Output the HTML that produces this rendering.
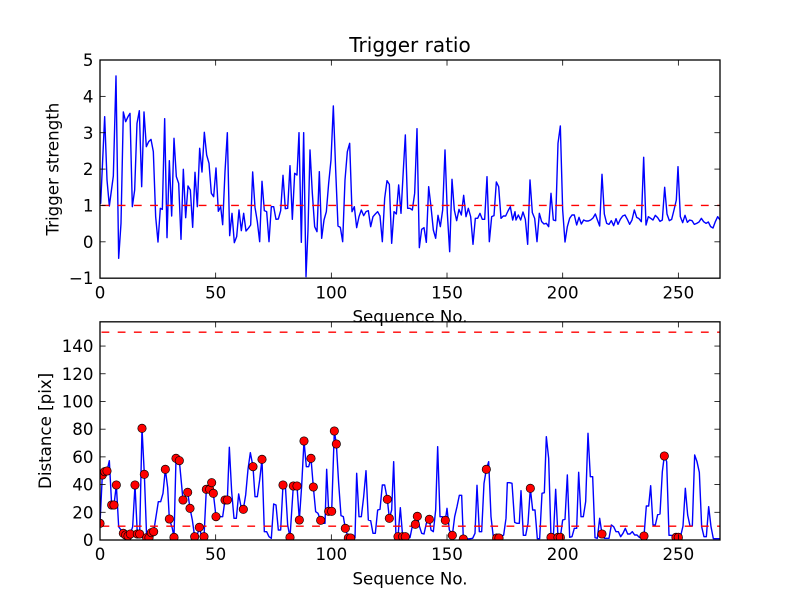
<!DOCTYPE html>
<html>
<head>
<meta charset="utf-8">
<style>
html,body{margin:0;padding:0;background:#fff;}
svg{display:block;}
text{font-family:"DejaVu Sans","Liberation Sans",sans-serif;fill:#000;}
</style>
</head>
<body>
<svg width="800" height="600" viewBox="0 0 800 600" xmlns="http://www.w3.org/2000/svg">
<defs>
<clipPath id="c1"><rect x="100" y="60" width="620" height="218.18"/></clipPath>
<clipPath id="c2"><rect x="100" y="321.82" width="620" height="218.18"/></clipPath>
</defs>
<rect x="0" y="0" width="800" height="600" fill="#fff"/>

<!-- ===== TOP AXES ===== -->
<g clip-path="url(#c1)">
<g transform="translate(98,70) scale(0.333333)">
<polyline fill="none" stroke="#0000ff" stroke-width="4.2" stroke-linejoin="round" points="
0,406 8,400 20,140 27,330 34,408 46,318 54,18 62,565 69,460 76,126 83,155 90,140 96,130 103,410 110,360 117,160 124,122 131,350 138,126 145,230 152,215 159,208 166,245 173,440 180,516 187,415 193,418 200,146 207,503 214,272 221,438 228,205 235,320 242,340 249,508 256,298 263,443 270,348 277,360 284,472 291,307 298,410 305,235 312,306 319,187 326,255 333,280 340,370 347,380 354,294 361,424 368,410 374,464 381,305 388,188 395,497 402,430 409,518 416,500 423,420 430,482 437,430 444,483 451,475 458,465 464,306 471,412 478,455 485,515 492,334 499,422 506,425 513,515 520,410 527,410 534,448 541,447 548,422 555,316 562,416 569,415 576,287 583,448 590,310 597,315 603,188 610,517 617,188 624,620
630,480 636,240 643,370 650,470 657,485 664,305 671,505 678,450 685,425 692,340 699,270 706,108 713,300 720,468 727,472 734,515 741,330 748,245 755,220 762,425 769,410 776,473 783,440 790,420 797,437 804,425 811,422 818,470 825,440 832,432 839,425 846,438 853,515 860,385 867,332 874,343 881,520 888,425 895,432 902,345 909,430 916,300 922,195 929,415 936,415 943,420 950,370 957,176 964,533 971,478 978,473 985,517 992,350 999,410 1006,480 1013,505 1020,436 1027,470 1034,420 1041,240 1048,430 1055,545 1062,328 1069,420 1076,452 1083,418 1090,435 1097,376 1104,440 1111,415 1118,440 1125,523 1132,445 1139,445 1146,430 1153,448 1160,448 1167,320 1174,515 1181,440 1188,437 1195,336 1202,350 1209,445 1216,438 1223,438 1230,423 1237,410 1244,450 1251,425
1254,450 1261,435 1268,450 1275,426 1282,448 1289,523 1296,330 1303,428 1310,445 1317,515 1324,430 1331,455 1338,462 1345,460 1352,470 1359,370 1366,450 1373,452 1380,220 1387,168 1394,420 1401,516 1408,470 1415,445 1422,435 1429,435 1436,465 1443,442 1450,462 1457,450 1464,453 1471,453 1478,450 1485,444 1492,432 1499,452 1505,468 1512,313 1519,432 1526,460 1533,463 1540,452 1547,467 1554,446 1560,463 1567,448 1574,438 1581,435 1588,448 1595,463 1602,450 1609,420 1616,442 1623,446 1630,455 1637,262 1644,465 1651,440 1658,445 1665,450 1672,436 1679,443 1686,454 1693,450 1700,352 1707,432 1714,452 1721,448 1728,420 1735,390 1740,290 1747,440 1754,458 1761,436 1768,457 1775,450 1782,452 1789,463 1796,460 1803,456 1810,445 1817,455 1824,460 1831,456 1838,470 1845,474 1852,455 1859,440 1866,450"/>
</g>
<line x1="101.5" y1="205.45" x2="720" y2="205.45" stroke="#ff0000" stroke-width="1.4" stroke-dasharray="7.8 8.4"/>
</g>
<rect x="100" y="60" width="620" height="218.18" fill="none" stroke="#000" stroke-width="1.3"/>
<!-- top ticks -->
<g stroke="#000" stroke-width="0.8">
<line x1="215.67" y1="278.18" x2="215.67" y2="272.6"/><line x1="331.34" y1="278.18" x2="331.34" y2="272.6"/><line x1="447.01" y1="278.18" x2="447.01" y2="272.6"/><line x1="562.69" y1="278.18" x2="562.69" y2="272.6"/><line x1="678.36" y1="278.18" x2="678.36" y2="272.6"/>
<line x1="215.67" y1="60" x2="215.67" y2="65.6"/><line x1="331.34" y1="60" x2="331.34" y2="65.6"/><line x1="447.01" y1="60" x2="447.01" y2="65.6"/><line x1="562.69" y1="60" x2="562.69" y2="65.6"/><line x1="678.36" y1="60" x2="678.36" y2="65.6"/>
<line x1="100" y1="241.82" x2="105.6" y2="241.82"/><line x1="100" y1="205.45" x2="105.6" y2="205.45"/><line x1="100" y1="169.09" x2="105.6" y2="169.09"/><line x1="100" y1="132.73" x2="105.6" y2="132.73"/><line x1="100" y1="96.36" x2="105.6" y2="96.36"/>
<line x1="720" y1="241.82" x2="714.4" y2="241.82"/><line x1="720" y1="205.45" x2="714.4" y2="205.45"/><line x1="720" y1="169.09" x2="714.4" y2="169.09"/><line x1="720" y1="132.73" x2="714.4" y2="132.73"/><line x1="720" y1="96.36" x2="714.4" y2="96.36"/>
</g>
<g font-size="16.67" text-anchor="middle">
<text x="100" y="298.4">0</text><text x="215.67" y="298.4">50</text><text x="331.34" y="298.4">100</text><text x="447.01" y="298.4">150</text><text x="562.69" y="298.4">200</text><text x="678.36" y="298.4">250</text>
</g>
<g font-size="16.67" text-anchor="end">
<text x="93.5" y="284.2">−1</text><text x="93.5" y="247.9">0</text><text x="93.5" y="211.5">1</text><text x="93.5" y="175.1">2</text><text x="93.5" y="138.8">3</text><text x="93.5" y="102.4">4</text><text x="93.5" y="66">5</text>
</g>
<text x="410" y="52" font-size="20" text-anchor="middle">Trigger ratio</text>
<text x="410" y="322.5" font-size="16.67" text-anchor="middle">Sequence No.</text>
<text transform="translate(58.5,169.1) rotate(-90)" font-size="16.67" text-anchor="middle">Trigger strength</text>

<!-- ===== BOTTOM AXES ===== -->
<g clip-path="url(#c2)">
<g transform="translate(90,310) scale(0.333333)">
<polyline fill="none" stroke="#0000ff" stroke-width="4.2" stroke-linejoin="round" points="
30,640 37,495 44,485 51,483 58,452 65,585 72,585 79,525 86,650 93,660 100,670 107,675 114,678 121,672 128,650 135,525 142,672 149,672 156,355 163,493 170,683 177,683 184,668 191,665 198,620 205,575 212,575 219,550 226,478 233,533 238,627 247,655 252,682 258,445 268,452 279,570 286,557 293,547 300,595 307,630 314,680 321,678 328,652 335,680 342,680 349,538 359,538 365,518 370,550 378,620 384,615 391,620 398,620 405,570 412,570 418,412 425,545 432,625 439,625 446,552 453,590 460,598 467,555 474,478 481,428 489,470 495,560 502,560 509,510 516,448 523,665 530,665 537,680 544,685 551,582 558,585 565,660 572,660 579,525 586,525 593,645 600,682 610,528 621,528 628,630 635,527 642,393 649,470 656,470 663,445
670,531 677,605 684,610 692,631 698,640 705,640 710,478 716,604 725,604 733,363 739,402 746,520 753,617 760,620 766,655 775,684 782,684 788,684 795,684 800,490 807,620 814,620 821,560 828,482 835,630 842,632 849,670 856,670 863,600 870,598 877,525 884,525 892,568 898,625 905,600 911,455 918,683 924,680 931,593 938,680 946,680 953,683 960,683 967,648 976,643 982,619 988,648 995,670 1002,672 1009,640 1018,628 1023,660 1030,665 1037,600 1043,410 1050,620 1057,620 1066,631 1071,595 1078,660 1087,676 1094,620 1101,590 1108,556 1115,556 1120,687 1127,687 1134,687 1141,686 1148,685 1155,670 1161,526 1168,665 1175,665 1182,520 1189,478 1196,455 1203,620 1210,682 1220,684 1227,684 1234,680 1241,675 1248,625 1252,518 1259,518 1266,520 1274,637 1281,640 1288,640
1293,542 1300,676 1307,676 1314,640 1321,535 1328,600 1335,600 1342,686 1349,686 1356,550 1363,548 1369,380 1376,445 1383,682 1390,682 1397,538 1404,682 1411,682 1418,630 1425,628 1432,495 1439,682 1446,680 1453,655 1460,655 1466,487 1473,620 1480,620 1487,575 1494,370 1501,500 1508,500 1515,683 1522,685 1529,625 1536,672 1543,685 1550,685 1557,685 1564,645 1571,650 1578,665 1585,665 1592,680 1599,670 1606,655 1613,672 1620,672 1627,665 1634,675 1641,675 1648,682 1655,685 1662,678 1669,588 1676,588 1682,527 1689,645 1696,645 1703,614 1710,612 1717,485 1723,438 1730,455 1737,676 1744,676 1751,680 1758,682 1765,682 1772,678 1779,648 1786,535 1793,615 1800,648 1807,648 1814,435 1821,455 1828,487 1835,650 1842,680 1849,680 1856,590 1863,650 1870,686 1877,686 1884,686 1890,686"/>
</g>
<line x1="101.5" y1="332.21" x2="720" y2="332.21" stroke="#ff0000" stroke-width="1.4" stroke-dasharray="7.8 8.4"/>
<line x1="101.5" y1="526.15" x2="720" y2="526.15" stroke="#ff0000" stroke-width="1.4" stroke-dasharray="7.8 8.4"/>
<g transform="translate(90,310) scale(0.333333)" fill="#ff0000" stroke="#000" stroke-width="2">
<circle cx="30" cy="640" r="12.6"/><circle cx="37" cy="495" r="12.6"/><circle cx="44" cy="485" r="12.6"/><circle cx="51" cy="483" r="12.6"/><circle cx="65" cy="585" r="12.6"/><circle cx="72" cy="585" r="12.6"/><circle cx="79" cy="525" r="12.6"/><circle cx="100" cy="670" r="12.6"/><circle cx="107" cy="675" r="12.6"/><circle cx="114" cy="678" r="12.6"/><circle cx="121" cy="672" r="12.6"/><circle cx="135" cy="525" r="12.6"/><circle cx="142" cy="672" r="12.6"/><circle cx="149" cy="672" r="12.6"/><circle cx="156" cy="355" r="12.6"/><circle cx="163" cy="493" r="12.6"/><circle cx="170" cy="683" r="12.6"/><circle cx="177" cy="683" r="12.6"/><circle cx="184" cy="668" r="12.6"/><circle cx="191" cy="665" r="12.6"/><circle cx="226" cy="478" r="12.6"/><circle cx="238" cy="627" r="12.6"/><circle cx="252" cy="682" r="12.6"/><circle cx="258" cy="445" r="12.6"/><circle cx="268" cy="452" r="12.6"/><circle cx="279" cy="570" r="12.6"/><circle cx="293" cy="547" r="12.6"/><circle cx="300" cy="595" r="12.6"/><circle cx="314" cy="680" r="12.6"/><circle cx="328" cy="652" r="12.6"/><circle cx="342" cy="680" r="12.6"/><circle cx="349" cy="538" r="12.6"/><circle cx="359" cy="538" r="12.6"/><circle cx="365" cy="518" r="12.6"/><circle cx="370" cy="550" r="12.6"/><circle cx="378" cy="620" r="12.6"/><circle cx="405" cy="570" r="12.6"/><circle cx="412" cy="570" r="12.6"/><circle cx="460" cy="598" r="12.6"/><circle cx="489" cy="470" r="12.6"/><circle cx="516" cy="448" r="12.6"/><circle cx="579" cy="525" r="12.6"/><circle cx="600" cy="682" r="12.6"/><circle cx="610" cy="528" r="12.6"/><circle cx="621" cy="528" r="12.6"/><circle cx="628" cy="630" r="12.6"/><circle cx="642" cy="393" r="12.6"/><circle cx="663" cy="445" r="12.6"/>
<circle cx="670" cy="531" r="12.6"/><circle cx="692" cy="631" r="12.6"/><circle cx="716" cy="604" r="12.6"/><circle cx="725" cy="604" r="12.6"/><circle cx="733" cy="363" r="12.6"/><circle cx="739" cy="402" r="12.6"/><circle cx="766" cy="655" r="12.6"/><circle cx="775" cy="684" r="12.6"/><circle cx="782" cy="684" r="12.6"/><circle cx="892" cy="568" r="12.6"/><circle cx="898" cy="625" r="12.6"/><circle cx="924" cy="680" r="12.6"/><circle cx="938" cy="680" r="12.6"/><circle cx="946" cy="680" r="12.6"/><circle cx="976" cy="643" r="12.6"/><circle cx="982" cy="619" r="12.6"/><circle cx="1018" cy="628" r="12.6"/><circle cx="1066" cy="631" r="12.6"/><circle cx="1087" cy="676" r="12.6"/><circle cx="1120" cy="687" r="12.6"/><circle cx="1189" cy="478" r="12.6"/><circle cx="1220" cy="684" r="12.6"/><circle cx="1227" cy="684" r="12.6"/>
<circle cx="1321" cy="535" r="12.6"/><circle cx="1383" cy="682" r="12.6"/><circle cx="1404" cy="682" r="12.6"/><circle cx="1411" cy="682" r="12.6"/><circle cx="1536" cy="672" r="12.6"/><circle cx="1662" cy="678" r="12.6"/><circle cx="1723" cy="438" r="12.6"/><circle cx="1758" cy="682" r="12.6"/><circle cx="1765" cy="682" r="12.6"/>
</g>
</g>
<rect x="100" y="321.82" width="620" height="218.18" fill="none" stroke="#000" stroke-width="1.3"/>
<g stroke="#000" stroke-width="0.8">
<line x1="215.67" y1="540" x2="215.67" y2="534.4"/><line x1="331.34" y1="540" x2="331.34" y2="534.4"/><line x1="447.01" y1="540" x2="447.01" y2="534.4"/><line x1="562.69" y1="540" x2="562.69" y2="534.4"/><line x1="678.36" y1="540" x2="678.36" y2="534.4"/>
<line x1="215.67" y1="321.82" x2="215.67" y2="327.4"/><line x1="331.34" y1="321.82" x2="331.34" y2="327.4"/><line x1="447.01" y1="321.82" x2="447.01" y2="327.4"/><line x1="562.69" y1="321.82" x2="562.69" y2="327.4"/><line x1="678.36" y1="321.82" x2="678.36" y2="327.4"/>
<line x1="100" y1="512.29" x2="105.6" y2="512.29"/><line x1="100" y1="484.59" x2="105.6" y2="484.59"/><line x1="100" y1="456.88" x2="105.6" y2="456.88"/><line x1="100" y1="429.18" x2="105.6" y2="429.18"/><line x1="100" y1="401.47" x2="105.6" y2="401.47"/><line x1="100" y1="373.77" x2="105.6" y2="373.77"/><line x1="100" y1="346.06" x2="105.6" y2="346.06"/>
<line x1="720" y1="512.29" x2="714.4" y2="512.29"/><line x1="720" y1="484.59" x2="714.4" y2="484.59"/><line x1="720" y1="456.88" x2="714.4" y2="456.88"/><line x1="720" y1="429.18" x2="714.4" y2="429.18"/><line x1="720" y1="401.47" x2="714.4" y2="401.47"/><line x1="720" y1="373.77" x2="714.4" y2="373.77"/><line x1="720" y1="346.06" x2="714.4" y2="346.06"/>
</g>
<g font-size="16.67" text-anchor="middle">
<text x="100" y="560.2">0</text><text x="215.67" y="560.2">50</text><text x="331.34" y="560.2">100</text><text x="447.01" y="560.2">150</text><text x="562.69" y="560.2">200</text><text x="678.36" y="560.2">250</text>
</g>
<g font-size="16.67" text-anchor="end">
<text x="93.5" y="546">0</text><text x="93.5" y="518.3">20</text><text x="93.5" y="490.6">40</text><text x="93.5" y="462.9">60</text><text x="93.5" y="435.2">80</text><text x="93.5" y="407.5">100</text><text x="93.5" y="379.8">120</text><text x="93.5" y="352.1">140</text>
</g>
<text x="410" y="584.3" font-size="16.67" text-anchor="middle">Sequence No.</text>
<text transform="translate(51,430.9) rotate(-90)" font-size="16.67" text-anchor="middle">Distance [pix]</text>
</svg>
</body>
</html>
